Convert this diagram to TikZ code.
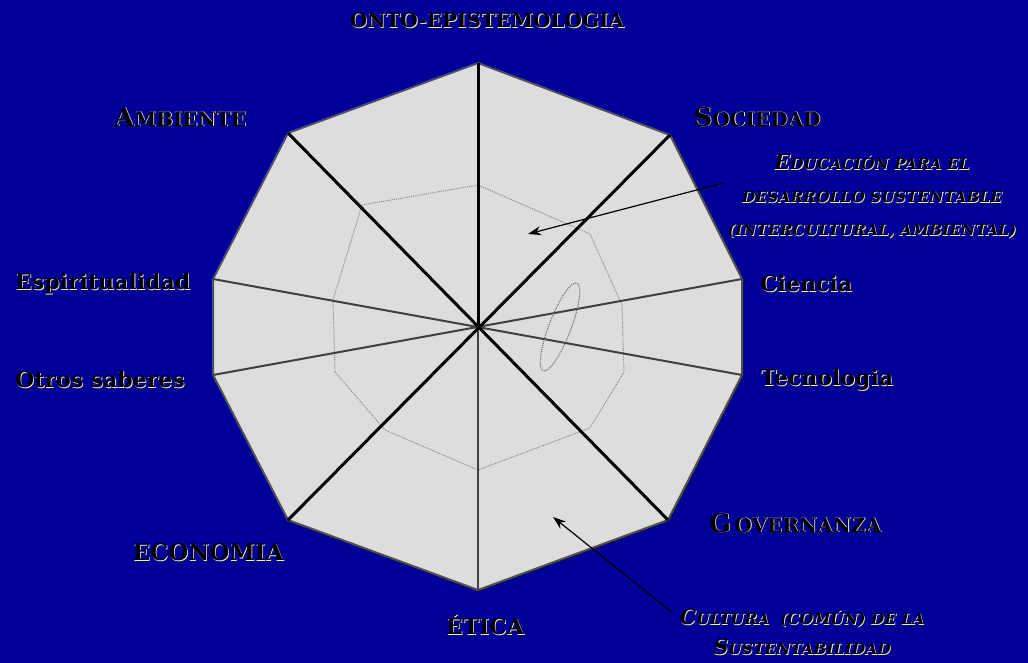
\documentclass[tikz,border=0pt]{standalone}
\usepackage{graphicx}
\usepackage{fontspec}
\setmainfont{DejaVu Serif}
\usetikzlibrary{arrows.meta}

\definecolor{bgblue}{RGB}{0,0,153}
\definecolor{panelgray}{RGB}{221,221,221}
\definecolor{edgegray}{RGB}{80,80,80}
\definecolor{shadowgray}{RGB}{235,235,235}

% light drop shadow behind a line of text
\newcommand{\shd}[1]{\leavevmode\rlap{\kern0.8pt\raisebox{-0.8pt}{\textcolor{shadowgray}{#1}}}\textcolor{black}{#1}}
% large first capital for the small-caps labels
\newcommand{\firstcap}[2]{{\fontsize{#1}{#1}\selectfont #2}}

\tikzstyle{lbl} = [font=\fontsize{22}{26}\selectfont\bfseries, text=black, inner sep=0pt]
\tikzstyle{sclbl} = [lbl, font=\fontsize{20}{24}\selectfont\bfseries]
\tikzstyle{notelbl} = [lbl, font=\fontsize{15.5}{33}\selectfont\bfseries\itshape, align=center]
\tikzstyle{outline} = [draw=edgegray, line width=2pt, fill=panelgray, line join=round]
\tikzstyle{innerline} = [draw=gray, line width=0.9pt, densely dotted]
\tikzstyle{spoke} = [draw=black, line width=3pt]
\tikzstyle{thinspoke} = [draw=black!75, line width=2pt]
\tikzstyle{pointer} = [-{Stealth[length=13pt,width=9pt]}, draw=black, line width=1.2pt]

\begin{document}
\begin{tikzpicture}[x=1pt, y=-1pt]
    \fill[bgblue] (0,0) rectangle (1028,663);
    \useasboundingbox (0,0) rectangle (1028,663);

    \coordinate (c) at (478,327);
    \coordinate (top) at (478,63);
    \coordinate (ur) at (670,135);
    \coordinate (rt) at (742,279);
    \coordinate (rb) at (742,375);
    \coordinate (lr) at (668,520);
    \coordinate (bot) at (478,590);
    \coordinate (ll) at (288,520);
    \coordinate (lb) at (213,375);
    \coordinate (lt) at (213,279);
    \coordinate (ul) at (288,133);

    \draw[outline] (top) -- (ur) -- (rt) -- (rb) -- (lr) -- (bot) -- (ll) -- (lb) -- (lt) -- (ul) -- cycle;

    % inner ring
    \draw[innerline] (478,185) -- (590,234) -- (622,305) -- (624,372) -- (590,428) -- (478,470)
        -- (385,430) -- (335,372) -- (333,300) -- (362,205) -- cycle;

    \draw[thinspoke] (lt) -- (rb);
    \draw[thinspoke] (lb) -- (rt);
    \draw[thinspoke] (c) -- (bot);
    \draw[spoke] (c) -- (top);
    \draw[spoke] (ul) -- (lr);
    \draw[spoke] (ur) -- (ll);

    \draw[draw=gray!80!black, line width=1pt, densely dotted] (560,327) ellipse [x radius=11, y radius=47, rotate=-21];

    \node[sclbl] (onto) at (487,21) {\shd{ONTO-EPISTEMOLOGIA}};
    \node[sclbl] (soc) at (757,117) {\shd{\firstcap{26}{S}OCIEDAD}};
    \node[sclbl] (amb) at (180,117) {\shd{\firstcap{26}{A}MBIENTE}};
    \node[lbl, anchor=west] (esp) at (15,284) {\shd{Espiritualidad}};
    \node[lbl, anchor=west] (otros) at (15,380) {\shd{Otros saberes}};
    \node[lbl, anchor=west] (cien) at (760,284) {\shd{Ciencia}};
    \node[lbl, anchor=west] (tec) at (760,380) {\shd{Tecnologia}};
    \node[sclbl] (gov) at (795,523) {\shd{\firstcap{26}{G}\,OVERNANZA}};
    \node[sclbl, font=\fontsize{23}{26}\selectfont\bfseries] (eco) at (208,553) {\shd{ECONOMIA}};
    \node[sclbl, font=\fontsize{22}{26}\selectfont\bfseries] (eti) at (485,625) {\shd{ÉTICA}};

    \node[notelbl] (educ) at (872,197) {\shd{\firstcap{21}{E}DUCACIÓN PARA EL}\\
        \shd{DESARROLLO SUSTENTABLE}\\
        \shd{(INTERCULTURAL, AMBIENTAL)}};
    \node[notelbl, font=\fontsize{15.5}{30}\selectfont\bfseries\itshape] (cult) at (802,632) {\shd{\firstcap{21}{C}ULTURA\ \ (COMÚN) DE LA}\\
        \shd{\firstcap{21}{S}USTENTABILIDAD}};

    \coordinate (edtip) at (528,234);
    \coordinate (cutip) at (553,517);
    \draw[pointer] ([shift={(-4,-14)}]educ.west) -- (edtip);
    \draw[pointer] ([shift={(-8,-20)}]cult.west) -- (cutip);
\end{tikzpicture}
\end{document}
